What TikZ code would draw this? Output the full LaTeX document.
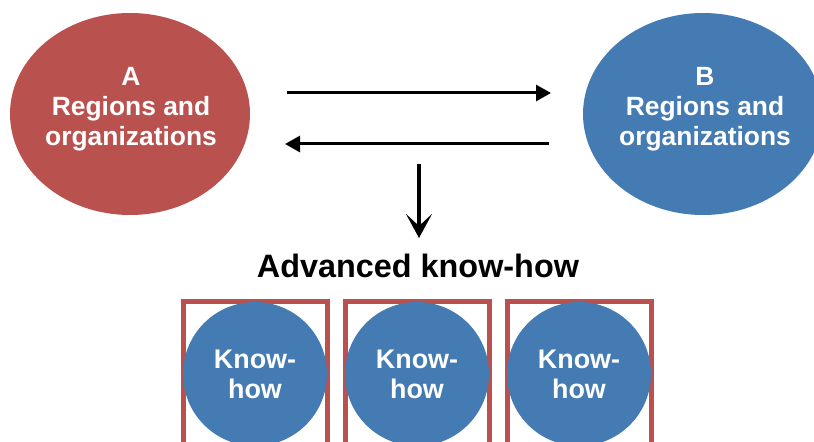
\documentclass[tikz,border=0pt]{standalone}
\usepackage{fontspec}
\setmainfont{Liberation Sans}
\usetikzlibrary{arrows.meta}
\definecolor{myred}{RGB}{185,82,79}
\definecolor{myblue}{RGB}{68,123,179}
\begin{document}
\begin{tikzpicture}[x=1bp,y=-1bp,
  regtext/.style={text=white, font=\bfseries\fontsize{26.5}{30}\selectfont, align=center},
  khcircle/.style={circle, fill=myblue, inner sep=0pt, minimum size=144bp, text=white,
                   font=\bfseries\fontsize{27}{30}\selectfont, align=center},
  khbox/.style={draw=myred, line width=5bp},
  flow/.style={line width=3bp, -{Triangle[length=15bp,width=16bp]}},
  down/.style={line width=4bp, -{Stealth[length=24bp,width=26bp,inset=12bp]}},
  title/.style={font=\bfseries\fontsize{32.5}{36}\selectfont}
]
\useasboundingbox (0,0) rectangle (814,442);
\clip (0,0) rectangle (814,442);
\fill[myred] (130,114) ellipse [x radius=120, y radius=101];
\node[regtext] (A) at (131,109) {A\\Regions and\\organizations};
\fill[myblue] (703,114) ellipse [x radius=120, y radius=101];
\node[regtext] (B) at (705,109) {B\\Regions and\\organizations};

\coordinate (t1) at (287,93);
\coordinate (t2) at (551,93);
\coordinate (b1) at (549,144);
\coordinate (b2) at (285,144);
\draw[flow] (t1) -- (t2);
\draw[flow] (b1) -- (b2);

\node[title] (adv) at (418,266) {Advanced know-how};
\coordinate (d1) at (419,164);
\draw[down] (d1) -- (419,238) coordinate (d2);

\foreach \i/\cx in {1/255,2/417,3/579}{
  \draw[khbox] (\cx-72,302) rectangle (\cx+72,470);
  \node[khcircle] (kh\i) at (\cx,374) {Know-\\how};
}
\end{tikzpicture}
\end{document}
